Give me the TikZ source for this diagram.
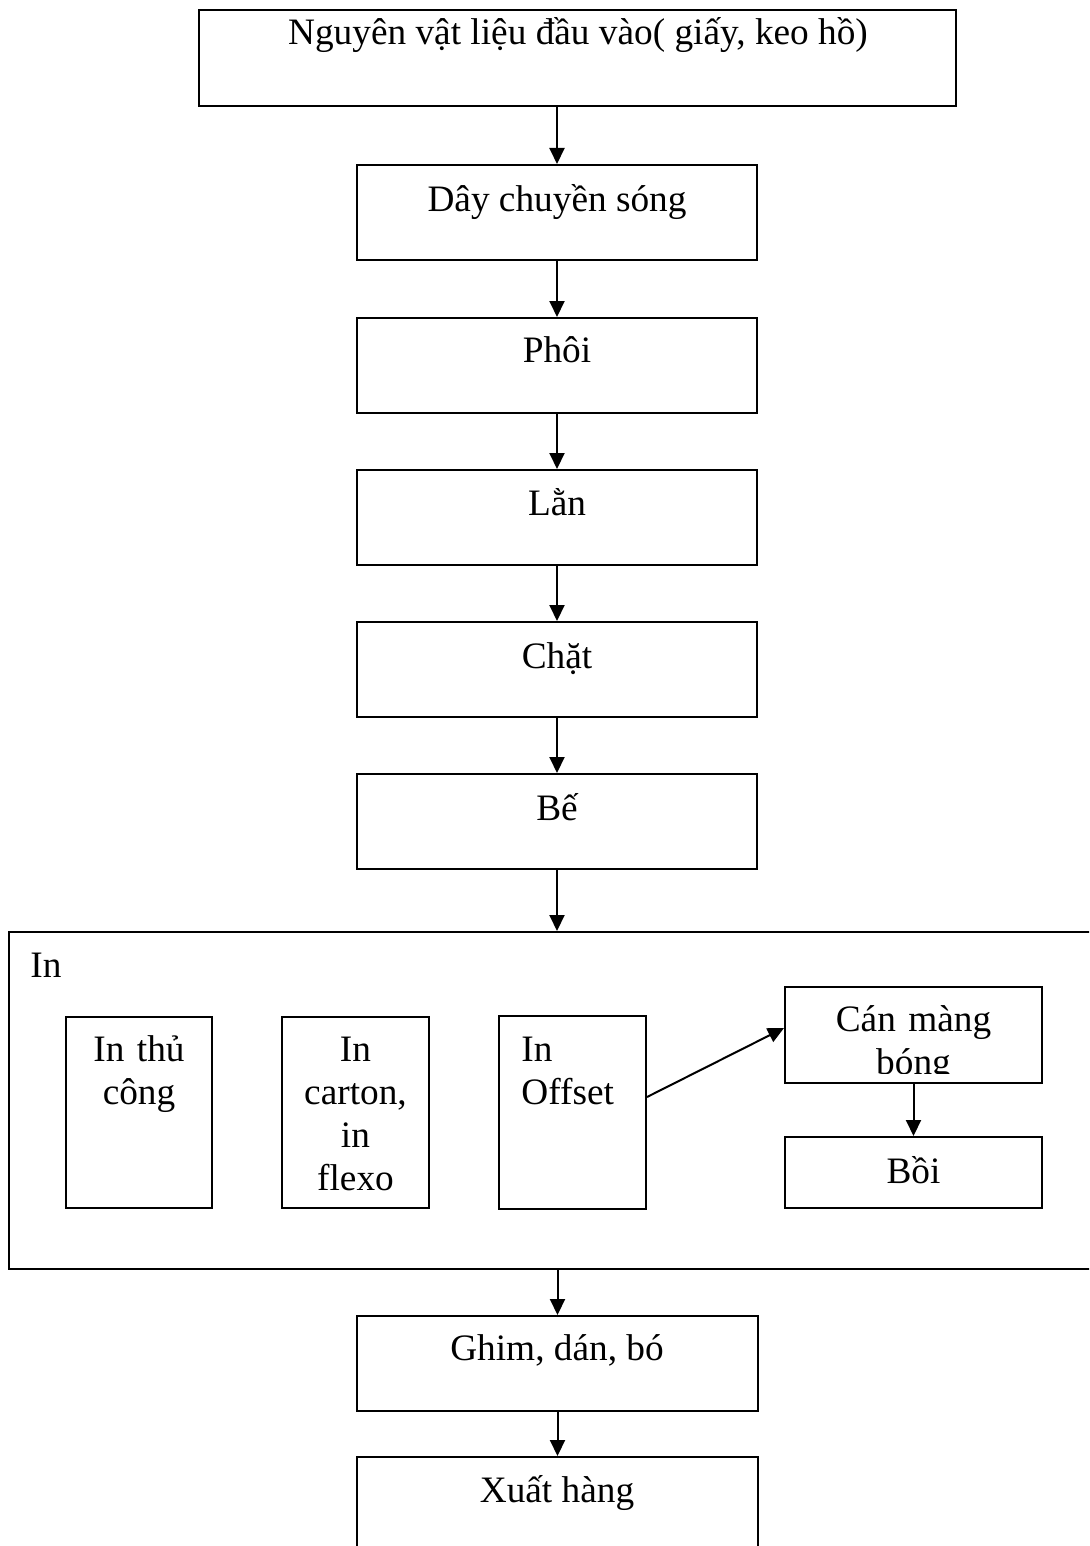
\documentclass[tikz,border=0pt]{standalone}
\usepackage{fontspec}
\setmainfont{Liberation Serif}
\usetikzlibrary{arrows.meta,calc}
\begin{document}
\begin{tikzpicture}[x=0.5pt,y=-0.5pt,
  box/.style={draw=black, line width=1pt, rectangle, inner sep=0pt},
  txt/.style={font=\fontsize{18.65pt}{21.5pt}\selectfont, inner sep=0pt, anchor=base},
  mtxt/.style={txt, text width=#1, align=center},
  ltxt/.style={font=\fontsize{18.65pt}{21.5pt}\selectfont, inner sep=0pt, anchor=base west, text width=#1, align=left},
  arr/.style={line width=1pt, -{Triangle[width=7.5pt,length=8pt]}}]
\clip (0,0) rectangle (1089,1546);
% main column boxes
\node[box, minimum width=378.5pt, minimum height=48pt] (top) at (577.5,58) {};
\node[box, minimum width=200pt, minimum height=47.5pt] (day) at (557,212.5) {};
\node[box, minimum width=200pt, minimum height=47.5pt] (phoi) at (557,365.5) {};
\node[box, minimum width=200pt, minimum height=47.5pt] (lan) at (557,517.5) {};
\node[box, minimum width=200pt, minimum height=47.5pt] (chat) at (557,669.5) {};
\node[box, minimum width=200pt, minimum height=47.5pt] (be) at (557,821.5) {};
\node[box, minimum width=543pt, minimum height=168.5pt] (inbox) at (552,1100.5) {};
\node[box, minimum width=73pt, minimum height=95.5pt] (thu) at (139,1112.5) {};
\node[box, minimum width=73.5pt, minimum height=95.5pt] (carton) at (355.5,1112.5) {};
\node[box, minimum width=73.5pt, minimum height=96.5pt] (offset) at (572.5,1112.5) {};
\node[box, minimum width=128.5pt, minimum height=48pt] (can) at (913.5,1035) {};
\node[box, minimum width=128.5pt, minimum height=35.5pt] (boi) at (913.5,1172.5) {};
\node[box, minimum width=200.5pt, minimum height=47.5pt] (ghim) at (557.5,1363.5) {};
\node[box, minimum width=200.5pt, minimum height=48pt] (xuat) at (557.5,1505) {};
% texts
\node[txt] (ttop) at (578,45) {Nguyên vật liệu đầu vào( giấy, keo hồ)};
\node[txt] (tday) at (557,212) {Dây chuyền sóng};
\node[txt] (tphoi) at (557,362) {Phôi};
\node[txt] (tlan) at (557,515) {Lằn};
\node[txt] (tchat) at (557,668) {Chặt};
\node[txt] (tbe) at (557,820) {Bế};
\node[txt, anchor=base west] (tin) at (30,977) {In};
\node[mtxt=62pt] (tthu) at (139,1061) {In thủ\\công};
\node[mtxt=62pt] (tcarton) at (355.5,1061) {In\\carton,\\in\\flexo};
\node[ltxt=62pt] (toffset) at (521,1061) {In\\Offset};
\begin{scope}
  \clip (785,987) rectangle (1042,1073);
  \node[mtxt=110pt] (tcan) at (913.5,1031) {Cán màng\\bóng};
\end{scope}
\node[txt] (tboi) at (913.5,1183) {Bồi};
\node[txt] (tghim) at (557,1360) {Ghim, dán, bó};
\node[txt] (txuat) at (557,1502) {Xuất hàng};
% connectors
\draw[arr] (top.south -| day.north) -- (day.north);
\draw[arr] (day.south) -- (phoi.north);
\draw[arr] (phoi.south) -- (lan.north);
\draw[arr] (lan.south) -- (chat.north);
\draw[arr] (chat.south) -- (be.north);
\draw[arr] (be.south) -- (be.south |- inbox.north);
\draw[arr] (inbox.south -| ghim.north) -- (ghim.north);
\draw[arr] (ghim.south) -- (xuat.north);
\draw[arr] ([yshift=7.75pt]offset.east) -- ([yshift=3.5pt]can.west);
\draw[arr] (can.south) -- (boi.north);
\end{tikzpicture}
\end{document}
